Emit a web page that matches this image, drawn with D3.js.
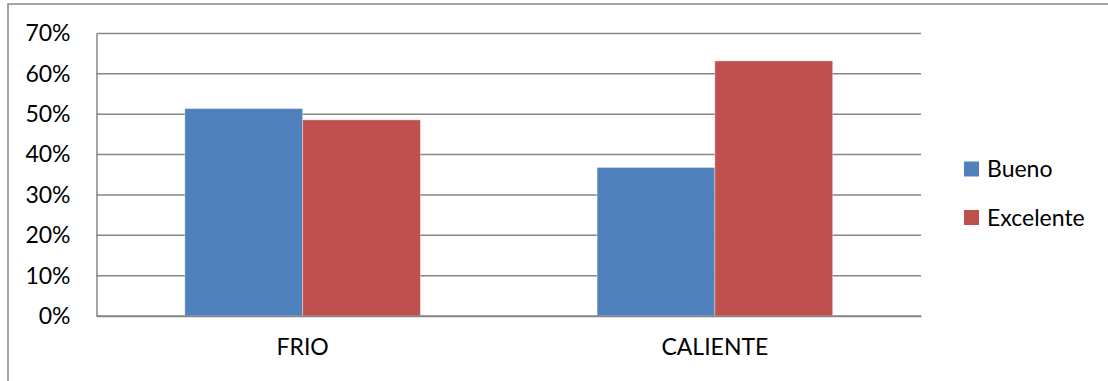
<!DOCTYPE html>
<html>
<head>
<meta charset="utf-8">
<script src="https://cdn.jsdelivr.net/npm/d3@7"></script>
<style>
  body { margin: 0; background: #fff; }
  svg { display: block; font-family: Lato, "Open Sans", sans-serif; }
</style>
</head>
<body>
<div id="chart"></div>
<script>
// chart values
const categories = ["FRIO", "CALIENTE"];
const seriesNames = ["Bueno", "Excelente"];
const bueno = [0.514, 0.368];
const excelente = [0.486, 0.632];
const yTicks = [0, 0.1, 0.2, 0.3, 0.4, 0.5, 0.6, 0.7];
const colors = ["#4F81BD", "#C0504D"];

const W = 1108, H = 381;
const margin = { top: 33.5, left: 96.5, right: 187, bottom: 65 };
const width = W - margin.left - margin.right;
const height = H - margin.top - margin.bottom;
const fontSize = "23px";

const svg = d3.select("#chart")
    .append("svg")
    .attr("width", W)
    .attr("height", H);

// outer chart border (right and bottom run off the picture)
svg.append("rect")
    .attr("x", 8).attr("y", 4)
    .attr("width", W + 10).attr("height", H + 10)
    .attr("fill", "none")
    .attr("stroke", "#868686")
    .attr("stroke-width", 1.5);

const g = svg.append("g")
    .attr("transform", "translate(" + margin.left + "," + margin.top + ")");

// scales
const x0 = d3.scaleBand()
    .domain(categories)
    .range([0, width])
    .paddingInner(0.4286)
    .paddingOuter(0.2143);

const x1 = d3.scaleBand()
    .domain(seriesNames)
    .range([0, x0.bandwidth()]);

const y = d3.scaleLinear()
    .domain([0, 0.7])
    .range([height, 0]);

// gridlines
g.append("g")
    .selectAll("line")
    .data(yTicks)
    .join("line")
    .attr("x1", 0).attr("x2", width)
    .attr("y1", d => y(d)).attr("y2", d => y(d))
    .attr("stroke", "#868686")
    .attr("stroke-width", 1.5);

// y axis
const yAxis = g.append("g")
    .call(d3.axisLeft(y).tickValues(yTicks).tickFormat(d3.format(".0%")).tickSize(0).tickPadding(26));
yAxis.select(".domain").attr("stroke", "#868686").attr("stroke-width", 1.5);
yAxis.selectAll("text").attr("font-size", fontSize).attr("fill", "#000").attr("font-family", "Lato, sans-serif");

// bars
const rows = categories.map((c, i) => ({ cat: c, vals: [bueno[i], excelente[i]] }));
const groups = g.selectAll("g.cat")
    .data(rows)
    .join("g")
    .attr("class", "cat")
    .attr("transform", d => "translate(" + x0(d.cat) + ",0)");

groups.selectAll("rect")
    .data(d => d.vals.map((v, k) => ({ name: seriesNames[k], v: v, k: k })))
    .join("rect")
    .attr("x", d => x1(d.name))
    .attr("y", d => y(d.v))
    .attr("width", x1.bandwidth())
    .attr("height", d => height - y(d.v))
    .attr("fill", d => colors[d.k])
    .attr("stroke", "rgba(255,255,255,0.35)")
    .attr("stroke-width", 1);

// x axis
const xAxis = g.append("g")
    .attr("transform", "translate(0," + height + ")")
    .call(d3.axisBottom(x0).tickSize(0).tickPadding(23));
xAxis.select(".domain").attr("stroke", "#868686").attr("stroke-width", 1.5);
xAxis.selectAll("text").attr("font-size", fontSize).attr("fill", "#000").attr("font-family", "Lato, sans-serif");

// legend
const legend = svg.append("g")
    .selectAll("g")
    .data(seriesNames)
    .join("g")
    .attr("transform", (d, i) => "translate(964," + (161.5 + i * 48.5) + ")");
legend.append("rect")
    .attr("width", 15).attr("height", 15)
    .attr("fill", (d, i) => colors[i]);
legend.append("text")
    .attr("x", 23).attr("y", 15.5)
    .attr("font-size", fontSize)
    .text(d => d);
</script>
</body>
</html>
